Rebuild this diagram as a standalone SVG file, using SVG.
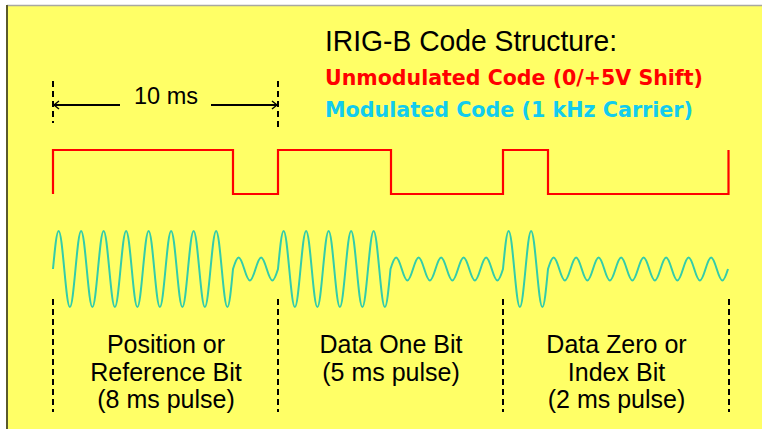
<svg xmlns="http://www.w3.org/2000/svg" width="762" height="429" viewBox="0 0 762 429">
<defs>
<style>
.lbl{font-family:"Liberation Sans",Arial,sans-serif;font-size:25px;fill:#000;text-anchor:middle}
.dash{stroke:#000;stroke-width:2;stroke-dasharray:6,4;fill:none}
.dim{stroke:#000;stroke-width:2;fill:none}
.head{stroke:#000;stroke-width:1.4;fill:none}
</style>
</defs>
<g id="frame">
<rect x="7" y="5" width="755" height="424" fill="#FFFF66"/>
<line x1="7" y1="5.5" x2="762" y2="5.5" stroke="#A8A8A0" stroke-width="1.5"/>
<line x1="7" y1="5" x2="7" y2="429" stroke="#5A5A2A" stroke-width="2"/>
</g>
<g id="title">
<text x="325" y="51" font-family="'Liberation Sans',Arial,sans-serif" font-size="30" fill="#000" textLength="292" lengthAdjust="spacingAndGlyphs">IRIG-B Code Structure:</text>
<text x="325" y="85" font-family="'DejaVu Sans',Verdana,sans-serif" font-weight="bold" font-size="21" fill="#FF0000" textLength="378" lengthAdjust="spacingAndGlyphs">Unmodulated Code (0/+5V Shift)</text>
<text x="325" y="117" font-family="'DejaVu Sans',Verdana,sans-serif" font-weight="bold" font-size="21" fill="#11CCEE" textLength="368" lengthAdjust="spacingAndGlyphs">Modulated Code (1 kHz Carrier)</text>
</g>
<g id="connectors">
<line class="dash" x1="53" y1="81" x2="53" y2="123"/>
<line class="dash" x1="278" y1="81" x2="278" y2="129"/>
<line class="dim" x1="54" y1="105" x2="120" y2="105"/>
<line class="dim" x1="211" y1="105" x2="277" y2="105"/>
<polyline class="head" points="59,101 54,105 59,109"/>
<polyline class="head" points="272,101 277,105 272,109"/>
<line class="dash" x1="53" y1="299" x2="53" y2="412"/>
<line class="dash" x1="278" y1="299" x2="278" y2="412"/>
<line class="dash" x1="503" y1="299" x2="503" y2="412"/>
<line class="dash" x1="729" y1="299" x2="729" y2="412"/>
</g>
<g id="dimension-label">
<text x="166" y="104" font-family="'Liberation Sans',Arial,sans-serif" font-size="23.5" fill="#000" text-anchor="middle">10 ms</text>
</g>
<g id="square-wave">
<polyline points="53,194 53,150 233,150 233,194 278,194 278,150 391,150 391,194 503,194 503,150 548,150 548,194 728.5,194 728.5,150" fill="none" stroke="#FF0000" stroke-width="2.2"/>
</g>
<g id="carrier">
<path fill="none" stroke="#33CCAA" stroke-width="2" stroke-linejoin="round" d="M53,269
c1.834,-19.47 3.589,-38 5.625,-38c2.036,0 3.791,18.53 5.625,38c1.834,19.47 3.589,38 5.625,38c2.036,0 3.791,-18.53 5.625,-38
c1.834,-19.47 3.589,-38 5.625,-38c2.036,0 3.791,18.53 5.625,38c1.834,19.47 3.589,38 5.625,38c2.036,0 3.791,-18.53 5.625,-38
c1.834,-19.47 3.589,-38 5.625,-38c2.036,0 3.791,18.53 5.625,38c1.834,19.47 3.589,38 5.625,38c2.036,0 3.791,-18.53 5.625,-38
c1.834,-19.47 3.589,-38 5.625,-38c2.036,0 3.791,18.53 5.625,38c1.834,19.47 3.589,38 5.625,38c2.036,0 3.791,-18.53 5.625,-38
c1.834,-19.47 3.589,-38 5.625,-38c2.036,0 3.791,18.53 5.625,38c1.834,19.47 3.589,38 5.625,38c2.036,0 3.791,-18.53 5.625,-38
c1.834,-19.47 3.589,-38 5.625,-38c2.036,0 3.791,18.53 5.625,38c1.834,19.47 3.589,38 5.625,38c2.036,0 3.791,-18.53 5.625,-38
c1.834,-19.47 3.589,-38 5.625,-38c2.036,0 3.791,18.53 5.625,38c1.834,19.47 3.589,38 5.625,38c2.036,0 3.791,-18.53 5.625,-38
c1.834,-19.47 3.589,-38 5.625,-38c2.036,0 3.791,18.53 5.625,38c1.834,19.47 3.589,38 5.625,38c2.036,0 3.791,-18.53 5.625,-38
c1.834,-5.89 3.589,-11.5 5.625,-11.5c2.036,0 3.791,5.61 5.625,11.5c1.834,5.89 3.589,11.5 5.625,11.5c2.036,0 3.791,-5.61 5.625,-11.5
c1.834,-5.89 3.589,-11.5 5.625,-11.5c2.036,0 3.791,5.61 5.625,11.5c1.834,5.89 3.589,11.5 5.625,11.5c2.036,0 3.791,-5.61 5.625,-11.5
c1.834,-19.47 3.589,-38 5.625,-38c2.036,0 3.791,18.53 5.625,38c1.834,19.47 3.589,38 5.625,38c2.036,0 3.791,-18.53 5.625,-38
c1.834,-19.47 3.589,-38 5.625,-38c2.036,0 3.791,18.53 5.625,38c1.834,19.47 3.589,38 5.625,38c2.036,0 3.791,-18.53 5.625,-38
c1.834,-19.47 3.589,-38 5.625,-38c2.036,0 3.791,18.53 5.625,38c1.834,19.47 3.589,38 5.625,38c2.036,0 3.791,-18.53 5.625,-38
c1.834,-19.47 3.589,-38 5.625,-38c2.036,0 3.791,18.53 5.625,38c1.834,19.47 3.589,38 5.625,38c2.036,0 3.791,-18.53 5.625,-38
c1.834,-19.47 3.589,-38 5.625,-38c2.036,0 3.791,18.53 5.625,38c1.834,19.47 3.589,38 5.625,38c2.036,0 3.791,-18.53 5.625,-38
c1.834,-5.89 3.589,-11.5 5.625,-11.5c2.036,0 3.791,5.61 5.625,11.5c1.834,5.89 3.589,11.5 5.625,11.5c2.036,0 3.791,-5.61 5.625,-11.5
c1.834,-5.89 3.589,-11.5 5.625,-11.5c2.036,0 3.791,5.61 5.625,11.5c1.834,5.89 3.589,11.5 5.625,11.5c2.036,0 3.791,-5.61 5.625,-11.5
c1.834,-5.89 3.589,-11.5 5.625,-11.5c2.036,0 3.791,5.61 5.625,11.5c1.834,5.89 3.589,11.5 5.625,11.5c2.036,0 3.791,-5.61 5.625,-11.5
c1.834,-5.89 3.589,-11.5 5.625,-11.5c2.036,0 3.791,5.61 5.625,11.5c1.834,5.89 3.589,11.5 5.625,11.5c2.036,0 3.791,-5.61 5.625,-11.5
c1.834,-5.89 3.589,-11.5 5.625,-11.5c2.036,0 3.791,5.61 5.625,11.5c1.834,5.89 3.589,11.5 5.625,11.5c2.036,0 3.791,-5.61 5.625,-11.5
c1.834,-19.47 3.589,-38 5.625,-38c2.036,0 3.791,18.53 5.625,38c1.834,19.47 3.589,38 5.625,38c2.036,0 3.791,-18.53 5.625,-38
c1.834,-19.47 3.589,-38 5.625,-38c2.036,0 3.791,18.53 5.625,38c1.834,19.47 3.589,38 5.625,38c2.036,0 3.791,-18.53 5.625,-38
c1.834,-5.89 3.589,-11.5 5.625,-11.5c2.036,0 3.791,5.61 5.625,11.5c1.834,5.89 3.589,11.5 5.625,11.5c2.036,0 3.791,-5.61 5.625,-11.5
c1.834,-5.89 3.589,-11.5 5.625,-11.5c2.036,0 3.791,5.61 5.625,11.5c1.834,5.89 3.589,11.5 5.625,11.5c2.036,0 3.791,-5.61 5.625,-11.5
c1.834,-5.89 3.589,-11.5 5.625,-11.5c2.036,0 3.791,5.61 5.625,11.5c1.834,5.89 3.589,11.5 5.625,11.5c2.036,0 3.791,-5.61 5.625,-11.5
c1.834,-5.89 3.589,-11.5 5.625,-11.5c2.036,0 3.791,5.61 5.625,11.5c1.834,5.89 3.589,11.5 5.625,11.5c2.036,0 3.791,-5.61 5.625,-11.5
c1.834,-5.89 3.589,-11.5 5.625,-11.5c2.036,0 3.791,5.61 5.625,11.5c1.834,5.89 3.589,11.5 5.625,11.5c2.036,0 3.791,-5.61 5.625,-11.5
c1.834,-5.89 3.589,-11.5 5.625,-11.5c2.036,0 3.791,5.61 5.625,11.5c1.834,5.89 3.589,11.5 5.625,11.5c2.036,0 3.791,-5.61 5.625,-11.5
c1.834,-5.89 3.589,-11.5 5.625,-11.5c2.036,0 3.791,5.61 5.625,11.5c1.834,5.89 3.589,11.5 5.625,11.5c2.036,0 3.791,-5.61 5.625,-11.5
c1.834,-5.89 3.589,-11.5 5.625,-11.5c2.036,0 3.791,5.61 5.625,11.5c1.834,5.89 3.589,11.5 5.625,11.5c2.036,0 3.791,-5.61 5.625,-11.5"/>
</g>
<g id="bit-position">
<text class="lbl" x="166" y="353">Position or</text>
<text class="lbl" x="166" y="380.5">Reference Bit</text>
<text class="lbl" x="166" y="408">(8 ms pulse)</text>
</g>
<g id="bit-one">
<text class="lbl" x="391" y="353">Data One Bit</text>
<text class="lbl" x="391" y="380.5">(5 ms pulse)</text>
</g>
<g id="bit-zero">
<text class="lbl" x="616.5" y="353">Data Zero or</text>
<text class="lbl" x="616.5" y="380.5">Index Bit</text>
<text class="lbl" x="616.5" y="408">(2 ms pulse)</text>
</g>
</svg>
